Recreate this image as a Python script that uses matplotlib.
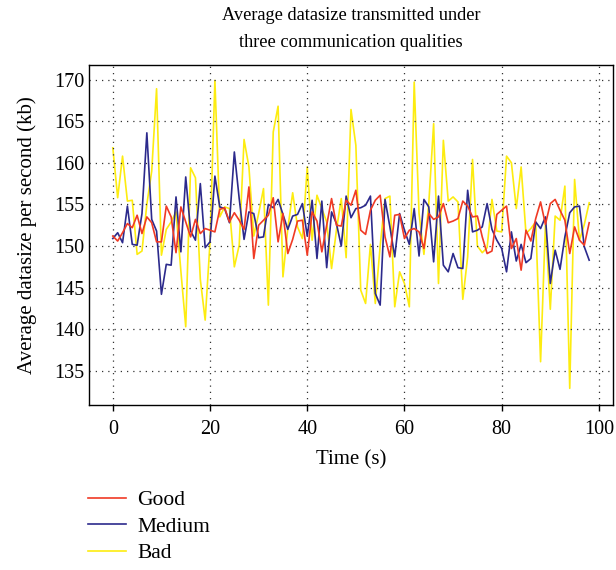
import numpy as np
import matplotlib
matplotlib.use("Agg")
import matplotlib.pyplot as plt

plt.rcParams["font.family"] = ["Liberation Serif", "DejaVu Serif"]

# time axis (s)
time_s = np.arange(99)

good = [151.2, 150.6, 151.6, 152.7, 152.2, 153.7, 151.5, 153.5, 152.8, 150.5,
        150.5, 154.8, 153.5, 149.2, 154.7, 152.9, 151.1, 153.2, 151.5, 152.1,
        151.9, 151.7, 154.4, 154.6, 152.9, 154.0, 153.1, 152.0, 157.1, 148.5,
        152.5, 153.1, 153.7, 155.8, 150.5, 153.9, 149.1, 150.8, 153.0, 153.1,
        148.9, 154.1, 153.0, 149.3, 152.5, 155.7, 152.5, 152.4, 155.5, 154.9,
        156.7, 151.9, 151.4, 154.3, 155.5, 156.1, 151.1, 148.7, 153.7, 153.8,
        150.9, 151.9, 152.1, 151.7, 149.7, 153.9, 153.2, 153.5, 155.1, 152.8,
        153.0, 153.3, 155.4, 154.8, 153.5, 153.6, 151.1, 149.1, 149.4, 153.8,
        154.3, 154.8, 149.7, 150.9, 147.1, 151.9, 150.6, 153.3, 155.3, 152.6,
        155.1, 155.6, 154.3, 153.1, 149.1, 152.3, 150.7, 150.1, 152.8]

medium = [150.9, 151.6, 150.4, 154.8, 150.2, 150.1, 153.9, 163.6, 153.2, 151.8,
          144.2, 147.8, 147.7, 155.9, 149.3, 158.3, 151.8, 150.7, 157.5, 149.8,
          150.5, 158.4, 154.7, 154.5, 152.8, 161.3, 155.7, 150.8, 154.1, 153.9,
          151.0, 151.1, 155.0, 154.6, 155.6, 153.8, 152.0, 153.6, 153.8, 155.1,
          151.2, 155.5, 148.5, 155.4, 147.4, 154.1, 152.7, 150.0, 156.0, 153.4,
          154.5, 154.6, 154.9, 156.0, 144.3, 142.9, 155.6, 152.3, 148.7, 153.9,
          151.9, 150.2, 154.5, 148.8, 155.6, 154.7, 148.1, 156.0, 147.7, 146.9,
          149.1, 147.4, 147.3, 156.7, 151.7, 151.9, 152.3, 155.1, 152.0, 150.7,
          149.7, 146.9, 151.7, 148.2, 150.2, 148.0, 148.5, 152.9, 152.1, 153.5,
          145.5, 149.5, 147.2, 151.1, 154.0, 154.7, 154.8, 149.9, 148.3]

bad = [161.8, 155.8, 160.8, 155.4, 155.5, 149.0, 149.4, 155.0, 159.0, 168.9,
       148.9, 152.0, 152.9, 154.1, 147.0, 140.3, 159.4, 158.2, 146.0, 141.1,
       150.5, 169.9, 153.5, 154.7, 154.5, 147.5, 150.1, 162.8, 159.5, 151.2,
       153.9, 156.9, 142.9, 163.7, 166.8, 146.3, 152.1, 156.4, 152.3, 150.9,
       159.5, 150.7, 156.1, 154.5, 152.9, 147.3, 151.9, 155.7, 148.6, 166.4,
       162.1, 144.7, 143.1, 150.2, 143.1, 150.0, 155.7, 156.0, 142.7, 146.9,
       145.5, 142.7, 169.7, 153.9, 149.0, 155.1, 164.7, 145.5, 162.7, 155.4,
       155.9, 155.3, 143.6, 148.7, 160.4, 150.0, 149.2, 149.8, 155.6, 151.8,
       151.7, 160.8, 160.0, 154.5, 159.5, 151.5, 152.1, 152.9, 136.1, 152.6,
       142.4, 153.6, 153.1, 157.2, 132.9, 158.0, 150.7, 152.6, 155.2]

labels = ["Good", "Medium", "Bad"]
colors = ["#f03a25", "#2c2a8c", "#fdec10"]

fig = plt.figure(figsize=(6.16, 5.70), dpi=100)
ax = fig.add_axes([89 / 616, 1 - 405 / 570, (613 - 89) / 616, (405 - 65) / 570])

ax.plot(time_s, good, color=colors[0], lw=1.2, label=labels[0], zorder=3)
ax.plot(time_s, medium, color=colors[1], lw=1.2, label=labels[1], zorder=2)
ax.plot(time_s, bad, color=colors[2], lw=1.2, label=labels[2], zorder=1)

ax.set_xlim(-4.9, 102.9)
ax.set_ylim(130.9, 171.75)
ax.set_xticks([0, 20, 40, 60, 80, 100])
ax.set_yticks([135, 140, 145, 150, 155, 160, 165, 170])
ax.grid(True, color="#333333", linestyle=(0, (1, 4)), linewidth=0.9)
ax.tick_params(labelsize=14.5, width=1)
ax.tick_params(axis="x", length=4, direction="out", pad=7)
ax.tick_params(axis="y", length=0, pad=3)
for sp in ax.spines.values():
    sp.set_linewidth(1.0)

ax.set_xlabel("Time (s)", fontsize=15, labelpad=8)
ax.set_ylabel("Average datasize per second (kb)", fontsize=15, labelpad=13)
ax.set_title("Average datasize transmitted under\nthree communication qualities",
             fontsize=13.2, pad=13, linespacing=1.75)

fig.legend(loc="upper left", bbox_to_anchor=(88 / 616, 1 - 490 / 570),
           frameon=False, fontsize=15.5, handlelength=1.75, handletextpad=0.55,
           labelspacing=0.3, borderpad=0, borderaxespad=0)

fig.savefig("out.png", dpi=100)
